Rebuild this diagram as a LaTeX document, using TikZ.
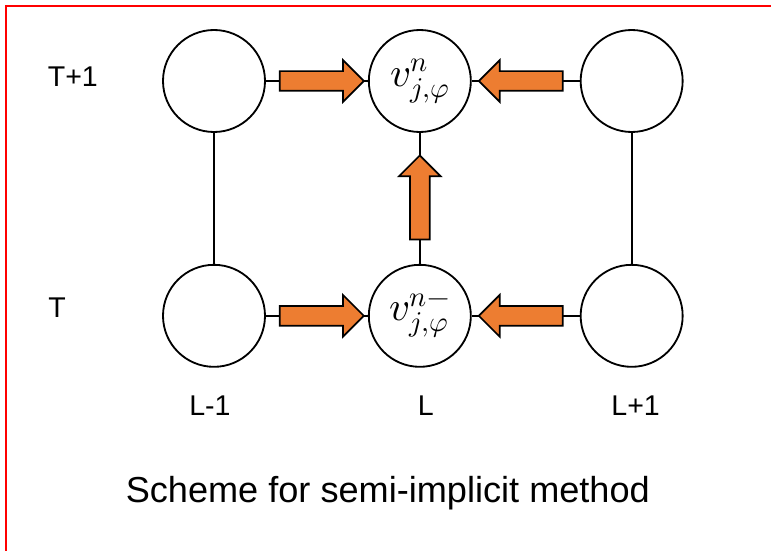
\documentclass[tikz,border=0pt]{standalone}
\usepackage{unicode-math}
\setmainfont{Liberation Sans}
\setmathfont{Latin Modern Math}
\usetikzlibrary{positioning,shapes.arrows}

\definecolor{arroworange}{RGB}{237,125,49}
\tikzstyle{gridpt} = [circle, draw=black, line width=1.3pt, fill=white, minimum size=2.55cm, inner sep=0pt, font=\fontsize{29}{32}\selectfont]
\tikzstyle{blockarrow} = [single arrow, draw=black, line width=1.2pt, fill=arroworange, inner sep=0.225cm, minimum height=2.1cm, single arrow head extend=0.275cm, sloped, allow upside down]
\tikzstyle{link} = [line width=1.3pt]
\tikzstyle{axislabel} = [inner sep=0pt, font=\fontsize{20.3}{24}\selectfont]

\begin{document}
\begin{tikzpicture}
\useasboundingbox (0,0) rectangle (19.275,-13.775);
\draw [red, line width=1.4pt] (19.275,-0.15) -- (0.15,-0.15) -- (0.15,-13.775);

\node (prevtop) [gridpt] at (5.35,-2.025) {};
\node (midtop) [gridpt, right=2.55cm of prevtop] {$v^{n}_{j,\varphi}$};
\node (nexttop) [gridpt, right=2.7cm of midtop] {};
\node (prevbot) [gridpt, below=3.275cm of prevtop] {};
\node (midbot) [gridpt, below=3.275cm of midtop] {$v^{n-}_{j,\varphi}$};
\node (nextbot) [gridpt, below=3.275cm of nexttop] {};

\node (rowtop) [axislabel, left=1.6cm of prevtop, yshift=0.1cm] {T+1};
\node (rowbot) [axislabel, left=2.4cm of prevbot, yshift=0.2cm] {T};
\node (colprev) [axislabel, below=0.7cm of prevbot, xshift=-0.1cm] {L-1};
\node (colmid) [axislabel, below=0.7cm of midbot, xshift=0.15cm] {L};
\node (colnext) [axislabel, below=0.7cm of nextbot, xshift=0.1cm] {L+1};
\node (caption) [below=1.5cm of colmid, xshift=-0.95cm, inner sep=0pt, font=\fontsize{25.7}{30}\selectfont] {Scheme for semi-implicit method};

\draw [link] (prevtop) -- (prevbot);
\draw [link] (nexttop) -- (nextbot);
\draw [link] (midbot) -- (midtop) node [blockarrow, pos=0.47] {};
\draw [link] (prevtop) -- (midtop) node [blockarrow, midway] {};
\draw [link] (nexttop) -- (midtop) node [blockarrow, midway] {};
\draw [link] (prevbot) -- (midbot) node [blockarrow, midway] {};
\draw [link] (nextbot) -- (midbot) node [blockarrow, midway] {};

\end{tikzpicture}
\end{document}
